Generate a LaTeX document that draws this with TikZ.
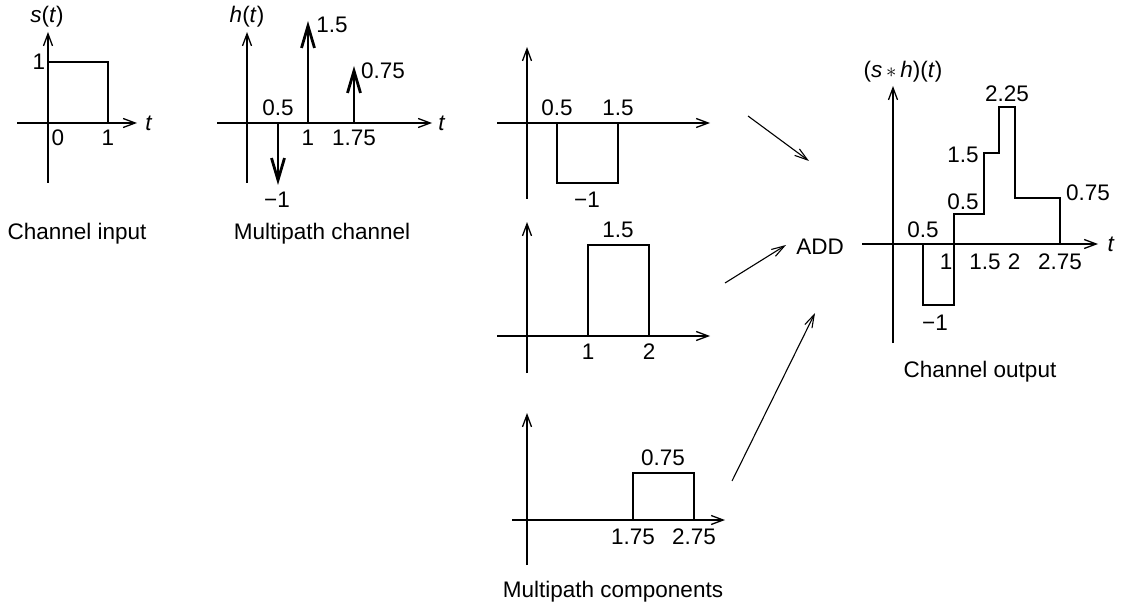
\documentclass[tikz,border=0pt]{standalone}
\usepackage{fontspec}
\setmainfont{Liberation Sans}
\usetikzlibrary{arrows.meta}
\tikzset{
  lbl/.style={inner sep=0pt, font=\fontsize{22.5}{27}\selectfont},
  axis/.style={line width=1.3pt, -{Straight Barb[length=12pt,width=9pt,line width=1.3pt]}},
  sig/.style={line width=1.3pt},
  impulse/.style={line width=2.8pt, -{Straight Barb[length=22pt,width=13pt,line width=2.8pt]}},
  feed/.style={line width=1.1pt, -{Straight Barb[length=13pt,width=8pt,line width=1.1pt]}}
}
\begin{document}
\begin{tikzpicture}[x=1pt,y=-1pt]
\useasboundingbox (0,0) rectangle (1121,604);
% ---------- s(t)
\coordinate (sv0) at (48,183); \coordinate (sv1) at (48,32);
\coordinate (sh0) at (17,123); \coordinate (sh1) at (137,123);
\draw[axis] (sv0) -- (sv1);
\draw[axis] (sh0) -- (sh1);
\draw[sig] (48,62) -- (108,62) -- (108,123);
\node[lbl] (sT) at (47,17) {\textit{s}(\textit{t})};
\node[lbl] (sOne) at (39,62) {1};
\node[lbl] (sZero) at (58,138) {0};
\node[lbl] (sOneB) at (108,138) {1};
\node[lbl] (st) at (149,123) {\textit{t}};
\node[lbl] (cin) at (77,234) {Channel input};
% ---------- h(t)
\draw[axis] (247,183) -- (247,32);
\draw[axis] (217,123) -- (432,123);
\draw[impulse] (278,123) -- (278,185);
\draw[impulse] (308,123) -- (308,21);
\draw[impulse] (354,123) -- (354,66);
\node[lbl] (hT) at (247,17) {\textit{h}(\textit{t})};
\node[lbl] (hA) at (332,25) {1.5};
\node[lbl] (hB) at (383,71) {0.75};
\node[lbl] (hC) at (278,108) {0.5};
\node[lbl] (hD) at (308,138) {1};
\node[lbl] (hE) at (354,138) {1.75};
\node[lbl] (hF) at (277,200) {−1};
\node[lbl] (ht) at (442,123) {\textit{t}};
\node[lbl] (mch) at (322,234) {Multipath channel};
% ---------- component 1
\draw[axis] (527,199) -- (527,47);
\draw[axis] (497,123) -- (710,123);
\draw[sig] (557,123) -- (557,183) -- (618,183) -- (618,123);
\node[lbl] (c1a) at (557,108) {0.5};
\node[lbl] (c1b) at (618,108) {1.5};
\node[lbl] (c1c) at (587,200) {−1};
% ---------- component 2
\draw[axis] (527,373) -- (527,222);
\draw[axis] (497,336) -- (710,336);
\draw[sig] (588,336) -- (588,245) -- (649,245) -- (649,336);
\node[lbl] (c2a) at (618,230) {1.5};
\node[lbl] (c2b) at (588,352) {1};
\node[lbl] (c2c) at (649,352) {2};
% ---------- component 3
\draw[axis] (527,565) -- (527,413);
\draw[axis] (512,520) -- (725,520);
\draw[sig] (633,520) -- (633,473) -- (694,473) -- (694,520);
\node[lbl] (c3a) at (663,458) {0.75};
\node[lbl] (c3b) at (633,537) {1.75};
\node[lbl] (c3c) at (694,537) {2.75};
\node[lbl] (mcomp) at (613,592) {Multipath components};
% ---------- ADD and feeds
\node[lbl] (add) at (820,247) {ADD};
\coordinate (f1s) at (748,116); \coordinate (f1e) at (809,161);
\coordinate (f2s) at (725,283); \coordinate (f2e) at (786,245);
\coordinate (f3s) at (732,481); \coordinate (f3e) at (815,313);
\draw[feed] (f1s) -- (f1e);
\draw[feed] (f2s) -- (f2e);
\draw[feed] (f3s) -- (f3e);
% ---------- output
\draw[axis] (893,343) -- (893,86);
\draw[axis] (862,244) -- (1098,244);
\draw[sig] (923,244) -- (923,305) -- (954,305) -- (954,214) -- (984,214) -- (984,153)
  -- (999,153) -- (999,107) -- (1015,107) -- (1015,198) -- (1060,198) -- (1060,244);
\node[lbl] (oT) at (903,72) {(\textit{s}\,$\ast$\,\textit{h})(\textit{t})};
\node[lbl] (oa) at (1007,94) {2.25};
\node[lbl] (ob) at (963,155) {1.5};
\node[lbl] (oc) at (963,202) {0.5};
\node[lbl] (od) at (1088,193) {0.75};
\node[lbl] (oe) at (923,230) {0.5};
\node[lbl] (of) at (946,262) {1};
\node[lbl] (og) at (985,262) {1.5};
\node[lbl] (oh) at (1014,262) {2};
\node[lbl] (oi) at (1060,262) {2.75};
\node[lbl] (oj) at (935,323) {−1};
\node[lbl] (ot) at (1111,244) {\textit{t}};
\node[lbl] (cout) at (980,372) {Channel output};
\end{tikzpicture}
\end{document}
